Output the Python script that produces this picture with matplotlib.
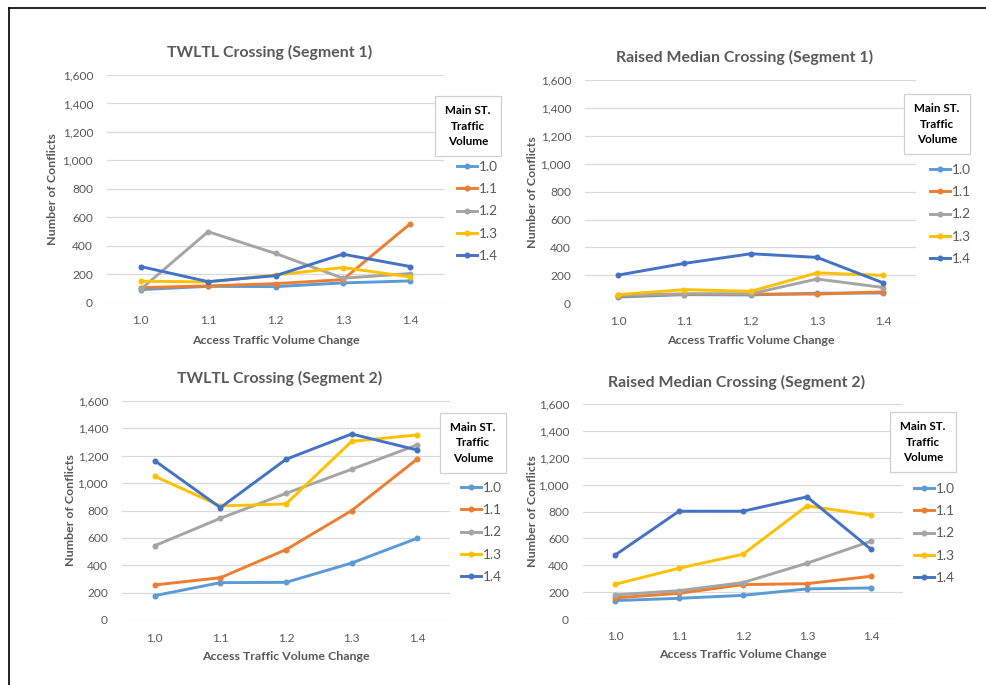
import matplotlib
matplotlib.use('Agg')
import matplotlib.pyplot as plt
from matplotlib.lines import Line2D
from matplotlib.ticker import FuncFormatter

plt.rcParams['font.family'] = ['Lato', 'DejaVu Sans']

# ---------------- data ----------------
access_change = ['1.0', '1.1', '1.2', '1.3', '1.4']
main_volume = ['1.0', '1.1', '1.2', '1.3', '1.4']
series_colors = ['#5B9BD5', '#ED7D31', '#A5A5A5', '#FFC000', '#4472C4']

# rows: main street volume 1.0 .. 1.4 ; columns: access change 1.0 .. 1.4
twltl_seg1 = [
    [92, 115, 113, 139, 153],
    [106, 118, 134, 162, 555],
    [94, 499, 346, 172, 205],
    [151, 146, 195, 247, 181],
    [254, 148, 190, 341, 254],
]
raised_seg1 = [
    [45, 62, 60, 72, 74],
    [55, 65, 66, 66, 82],
    [58, 68, 68, 174, 113],
    [62, 98, 86, 218, 200],
    [202, 286, 355, 329, 146],
]
twltl_seg2 = [
    [178, 273, 275, 416, 597],
    [256, 309, 514, 799, 1176],
    [543, 743, 925, 1101, 1279],
    [1050, 833, 848, 1305, 1352],
    [1164, 821, 1174, 1359, 1242],
]
raised_seg2 = [
    [137, 154, 176, 224, 231],
    [157, 191, 256, 263, 318],
    [179, 211, 271, 415, 579],
    [258, 378, 482, 842, 773],
    [475, 802, 802, 909, 519],
]

titles = ['TWLTL Crossing (Segment 1)', 'Raised Median Crossing (Segment 1)',
          'TWLTL Crossing (Segment 2)', 'Raised Median Crossing (Segment 2)']
y_ticks = [0, 200, 400, 600, 800, 1000, 1200, 1400, 1600]
x_axis_title = 'Access Traffic Volume Change'
y_axis_title = 'Number of Conflicts'
legend_title = 'Main ST.\nTraffic\nVolume'

# ---------------- layout (pixels) ----------------
W, H = 986, 685
fig = plt.figure(figsize=(W / 100, H / 100), dpi=100)
fig.patch.set_facecolor('white')


def fx(x):
    return x / W


def fy(y):
    return 1 - y / H


panels = [
    dict(data=twltl_seg1, ax=(107, 444, 75, 302.7), title=(270, 52), ylab=52, xlab=340,
         lbox=(468, 126), lent=(457, 161)),
    dict(data=raised_seg1, ax=(585, 916.5, 80, 303.3), title=(745, 57), ylab=532, xlab=340,
         lbox=(937, 124), lent=(930, 164)),
    dict(data=twltl_seg2, ax=(122, 450, 401, 620), title=(280, 378), ylab=70, xlab=657,
         lbox=(473, 443), lent=(461, 482)),
    dict(data=raised_seg2, ax=(583, 903, 404, 619), title=(737, 382), ylab=532, xlab=654,
         lbox=(923, 442), lent=(914, 483)),
]

grey_text = '#595959'
fmt = FuncFormatter(lambda v, p: f'{int(v):,}')

for i, p in enumerate(panels):
    x0, x1, yt, yb = p['ax']
    ax = fig.add_axes([fx(x0), fy(yb), (x1 - x0) / W, (yb - yt) / H])
    xs = list(range(len(access_change)))
    for k, vals in enumerate(p['data']):
        ax.plot(xs, vals, color=series_colors[k], lw=2.1, marker='o', ms=3.3,
                solid_joinstyle='round', zorder=3 + k, clip_on=False)
    ax.set_xlim(-0.5, len(access_change) - 0.5)
    ax.set_ylim(0, 1600)
    ax.set_yticks(y_ticks)
    ax.yaxis.set_major_formatter(fmt)
    ax.set_xticks(xs)
    ax.set_xticklabels(access_change)
    ax.grid(axis='y', color='#D9D9D9', lw=0.9)
    ax.set_axisbelow(True)
    for s in ax.spines.values():
        s.set_visible(False)
    ax.tick_params(axis='both', length=0, labelsize=8.6, colors=grey_text)
    ax.tick_params(axis='y', pad=10)
    ax.tick_params(axis='x', pad=9)

    fig.text(fx(p['title'][0]), fy(p['title'][1]), titles[i], ha='center', va='center',
             fontsize=11.4, fontweight='bold', color=grey_text)
    fig.text(fx(p['ylab']), fy((yt + yb) / 2), y_axis_title, rotation=90, ha='center',
             va='center', fontsize=8.9, fontweight='bold', color=grey_text)
    fig.text(fx((x0 + x1) / 2), fy(p['xlab']), x_axis_title, ha='center', va='center',
             fontsize=8.9, fontweight='bold', color=grey_text)
    fig.text(fx(p['lbox'][0]), fy(p['lbox'][1]), legend_title, ha='center', va='center',
             fontsize=8.4, fontweight='bold', color='black', linespacing=1.45,
             bbox=dict(boxstyle='square,pad=0.85', fc='white', ec='#D0D0D0', lw=0.9),
             zorder=10)
    leg_handles = [Line2D([], [], color=c, lw=2.1, marker='o', ms=3.3) for c in series_colors]
    leg = fig.legend(leg_handles, main_volume, loc='upper left',
                     bbox_to_anchor=(fx(p['lent'][0]), fy(p['lent'][1])),
                     frameon=False, fontsize=9.8, handlelength=1.5, handletextpad=0.1,
                     labelspacing=0.75, borderpad=0, borderaxespad=0)
    for t in leg.get_texts():
        t.set_color(grey_text)

# frame lines of the screenshot
fig.add_artist(Line2D([fx(9), fx(986)], [fy(8), fy(8)], color='black', lw=1.2))
fig.add_artist(Line2D([fx(9), fx(9)], [fy(8), fy(685)], color='black', lw=1.2))

fig.savefig('out.png', dpi=100, facecolor='white')
